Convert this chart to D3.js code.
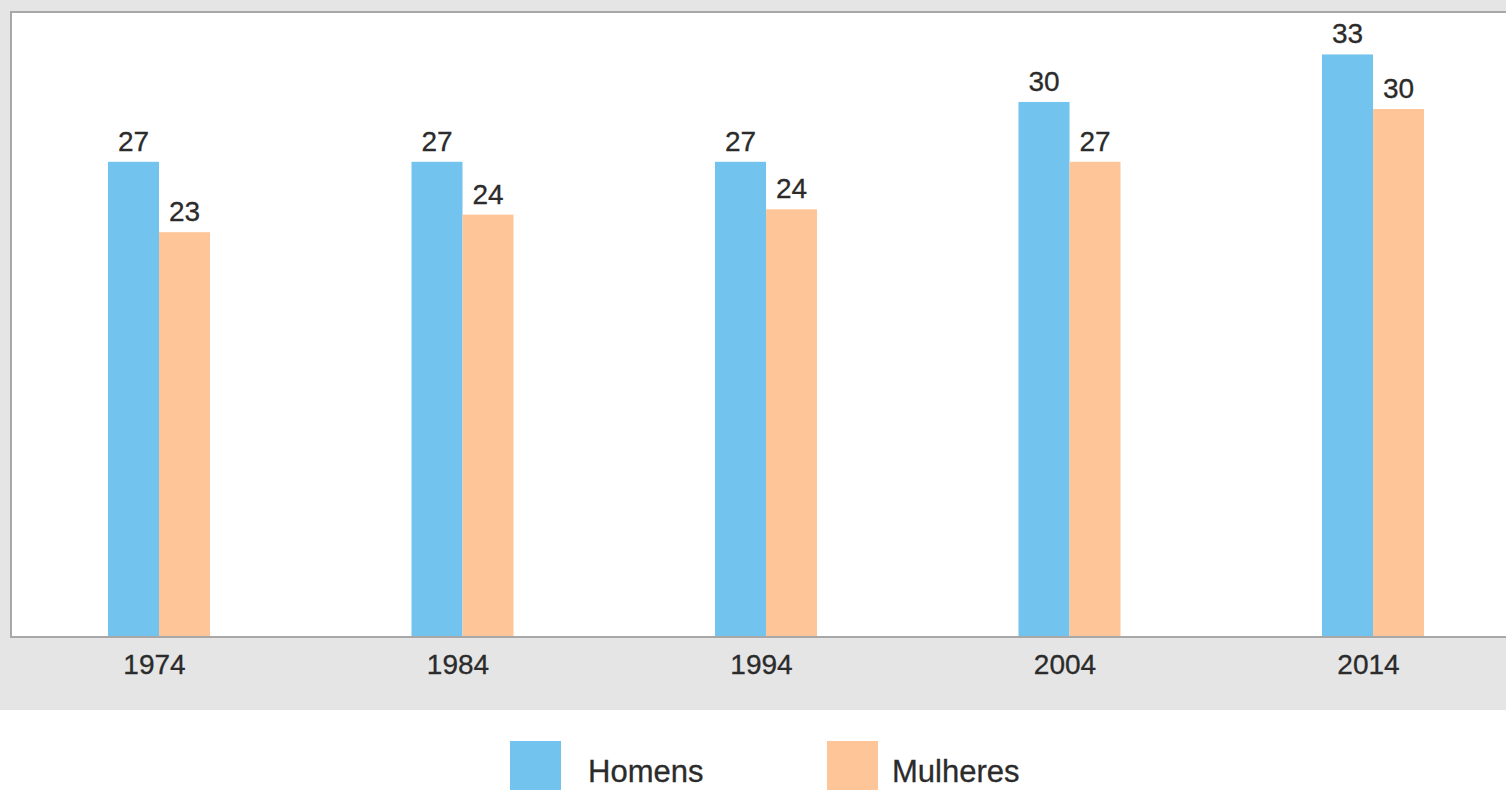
<!DOCTYPE html>
<html>
<head>
<meta charset="utf-8">
<script src="https://cdn.jsdelivr.net/npm/d3@7"></script>
<style>
  body { margin: 0; background: #fff; }
  text { font-family: "Liberation Sans", Arial, sans-serif; fill: #2b2b2b; stroke: #2b2b2b; stroke-width: 0.3px; }
</style>
</head>
<body>
<svg id="chart"></svg>
<script>
let years = ["1974", "1984", "1994", "2004", "2014"];
let series = ["Homens", "Mulheres"];
let homens = [27, 27, 27, 30.4, 33.1];
let mulheres = [23, 24, 24.3, 27, 30];
let colors = ["#73c3ef", "#fec598"];

let width = 1506;
let height = 790;
let baseY = 637;

let rows = years.map((y, i) => ({ year: y, values: [homens[i], mulheres[i]] }));

let svg = d3.select("#chart").attr("width", width).attr("height", height);

// grey band behind the plot
svg.append("rect")
  .attr("x", 0).attr("y", 0)
  .attr("width", width).attr("height", 710)
  .style("fill", "#e5e5e5");

// white plot panel
svg.append("rect")
  .attr("x", 11).attr("y", 12)
  .attr("width", 1510).attr("height", baseY - 12)
  .style("fill", "#fff")
  .style("stroke", "#a8a8a8")
  .style("stroke-width", 2);

let x = d3.scalePoint().domain(years).range([159, 1373]);
let xs = d3.scaleBand().domain(series).range([-51, 51]);
let y = d3.scaleLinear().domain([0, 36]).range([baseY, baseY - 36 * 17.6]);

let groups = svg.append("g")
  .selectAll(".grp")
  .data(rows)
  .join("g")
  .attr("class", "grp")
  .attr("transform", (d) => `translate(${x(d.year)},0)`);

let cells = groups.selectAll(".bar")
  .data((d) => d.values.map((v, j) => ({ key: series[j], v: v, j: j })))
  .join("g");

cells.append("rect")
  .attr("class", "bar")
  .attr("x", (d) => xs(d.key))
  .attr("y", (d) => y(d.v))
  .attr("width", xs.bandwidth())
  .attr("height", (d) => baseY - y(d.v))
  .style("fill", (d) => colors[d.j]);

cells.append("text")
  .attr("x", (d) => xs(d.key) + xs.bandwidth() / 2)
  .attr("y", (d) => y(d.v) - 11)
  .attr("text-anchor", "middle")
  .style("font-size", "28px")
  .text((d) => d3.format(".0f")(d.v));

let axis = svg.append("g")
  .attr("transform", `translate(0,${baseY})`)
  .call(d3.axisBottom(x).tickSize(0).tickPadding(17));
axis.select(".domain").remove();
axis.selectAll("text")
  .attr("dx", -5)
  .style("font-size", "28px")
  .style("font-family", "'Liberation Sans', Arial, sans-serif")
  .style("fill", "#2b2b2b");

// bottom edge of panel redrawn over bars
svg.append("line")
  .attr("x1", 10).attr("x2", width)
  .attr("y1", baseY).attr("y2", baseY)
  .style("stroke", "#a8a8a8")
  .style("stroke-width", 2);

// legend
let legendX = [510, 827];
let legend = svg.append("g")
  .selectAll(".leg")
  .data(series)
  .join("g")
  .attr("class", "leg")
  .attr("transform", (d, i) => `translate(${legendX[i]},741)`);

legend.append("rect")
  .attr("width", 51).attr("height", 52)
  .style("fill", (d, i) => colors[i]);

legend.append("text")
  .attr("x", (d, i) => (i == 0 ? 78 : 65))
  .attr("y", 41)
  .style("font-size", "31px")
  .text((d) => d);
</script>
</body>
</html>
